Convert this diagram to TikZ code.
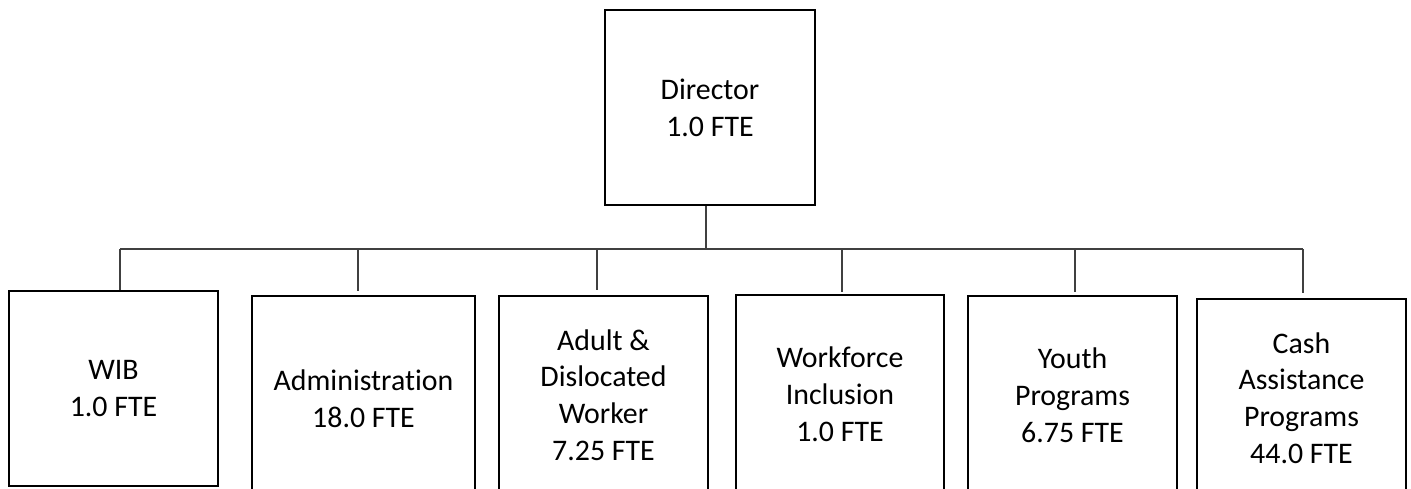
\documentclass[tikz,border=0pt]{standalone}
\usepackage{fontspec}
\setmainfont[Ligatures=NoCommon]{Carlito}
\begin{document}
\begin{tikzpicture}[x=0.75pt,y=-0.75pt,
  box/.style={draw=black, line width=1.8pt, fill=white, inner sep=0pt,
    align=center, font=\fontsize{22.4}{27.6}\selectfont},
  conn/.style={draw=black!75, line width=0.9pt}]
\useasboundingbox (0,0) rectangle (1411,489);
\clip (0,0) rectangle (1411,489);
\fill[white] (0,0) rectangle (1411,489);

% top box
\node[box, minimum width=210*0.75pt, minimum height=195*0.75pt] (dir) at (710,107.5) {Director\\1.0 FTE};

% second level boxes (the lower ones run past the bottom edge)
\node[box, minimum width=209*0.75pt, minimum height=195*0.75pt] (wib) at (113.5,388.5) {WIB\\1.0 FTE};
\node[box, minimum width=223*0.75pt, minimum height=205*0.75pt] (adm) at (363.5,398.5) {Administration\\18.0 FTE};
\node[box, minimum width=209*0.75pt, minimum height=198*0.75pt] (adw) at (603.5,395) {Adult \&\\Dislocated\\Worker\\7.25 FTE};
\node[box, minimum width=208*0.75pt, minimum height=198*0.75pt] (wfi) at (840,394) {Workforce\\Inclusion\\1.0 FTE};
\node[box, minimum width=209*0.75pt, minimum height=198*0.75pt] (yth) at (1072.5,395) {Youth\\Programs\\6.75 FTE};
\node[box, minimum width=209*0.75pt, minimum height=198*0.75pt] (cap) at (1301.5,398) {Cash\\Assistance\\Programs\\44.0 FTE};

% connector ends
\coordinate (bus) at (0,249);
\coordinate (sdir) at ([shift={(-4,0)}]dir.south);
\coordinate (swib) at ([shift={(6.5,0)}]wib.north);
\coordinate (sadm) at ([shift={(-5.5,-4)}]adm.north);
\coordinate (sadw) at ([shift={(-6.5,-5)}]adw.north);
\coordinate (swfi) at ([shift={(2,-2)}]wfi.north);
\coordinate (syth) at ([shift={(2.5,-3)}]yth.north);
\coordinate (scap) at ([shift={(1.5,-5)}]cap.north);

% connectors
\draw[conn] (sdir) -- (sdir |- bus);
\draw[conn] (swib |- bus) -- (scap |- bus);
\foreach \s in {swib,sadm,sadw,swfi,syth,scap}
  \draw[conn] (\s) -- (\s |- bus);
\end{tikzpicture}
\end{document}
